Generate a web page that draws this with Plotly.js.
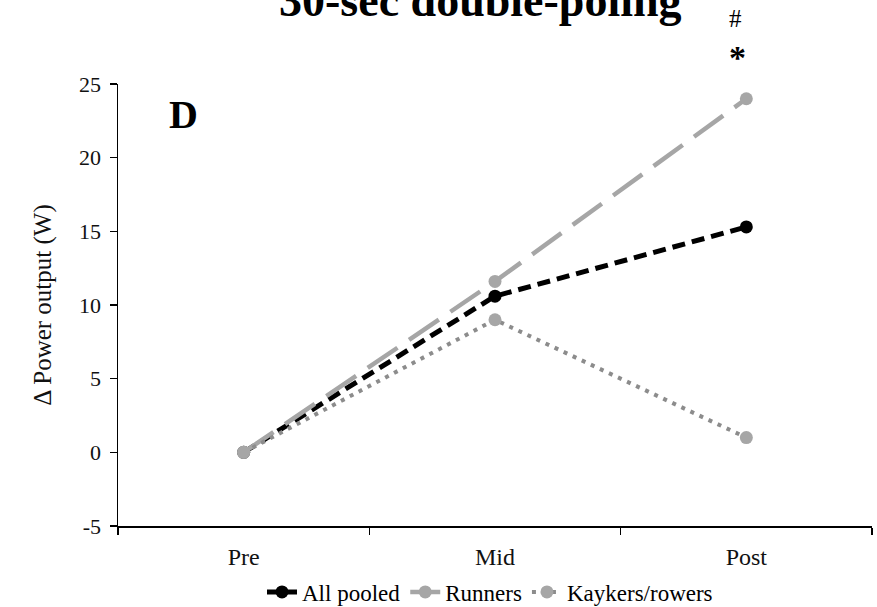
<!DOCTYPE html>
<html><head><meta charset="utf-8">
<script src="https://cdn.plot.ly/plotly-3.0.1.min.js"></script>
<style>html,body{margin:0;padding:0;background:#fff}#c{width:877px;height:607px}</style>
</head><body><div id="c"></div>
<script>
const timepoints = ['Pre', 'Mid', 'Post'];
const allPooled = [0, 10.6, 15.3];
const runners = [0, 11.6, 24.0];
const kayakers = [0, 9.0, 1.0];
const seriesNames = ['All pooled', 'Runners', 'Kaykers/rowers'];
const yTicks = [-5, 0, 5, 10, 15, 20, 25];
const yTickText = ['-5', '0', '5', '10', '15', '20', '25'];

const F = '"Liberation Serif", "Times New Roman", serif';
const traces = [
  {x: timepoints, y: allPooled, name: seriesNames[0], mode: 'lines+markers',
   line: {color: '#000', width: 5, dash: '13px,7px'}, marker: {color: '#000', size: 13}},
  {x: timepoints, y: runners, name: seriesNames[1], mode: 'lines+markers',
   line: {color: '#A6A6A6', width: 4.5, dash: '36px,14px'}, marker: {color: '#A6A6A6', size: 13}},
  {x: timepoints, y: kayakers, name: seriesNames[2], mode: 'lines+markers',
   line: {color: '#8C8C8C', width: 4, dash: '4px,6px'}, marker: {color: '#A6A6A6', size: 13}},
];
const layout = {
  width: 877, height: 607,
  margin: {l: 118, r: 5, t: 84, b: 81},
  paper_bgcolor: '#fff', plot_bgcolor: '#fff',
  font: {family: F, color: '#000'},
  showlegend: true,
  legend: {orientation: 'h', xref: 'container', yref: 'container', x: 490 / 877, xanchor: 'center',
           y: (607 - 592) / 607, yanchor: 'middle',
           font: {family: F, size: 23, color: '#000'}, itemwidth: 30, tracegroupgap: 0},
  xaxis: {type: 'category', categoryarray: timepoints, range: [-0.5, 2.5], tickson: 'boundaries',
          ticks: 'outside', ticklen: 7, tickwidth: 1.3, tickcolor: '#000', ticklabelstandoff: 9,
          showline: true, linecolor: '#000', linewidth: 1.5, showgrid: false, zeroline: false,
          tickfont: {family: F, size: 24, color: '#111'}, fixedrange: true},
  xaxis2: {overlaying: 'x', type: 'linear', range: [-0.5, 2.5], tickvals: [-0.5, 0.5, 1.5, 2.5],
           ticks: 'inside', ticklen: 7, tickwidth: 1.3, tickcolor: '#000', showticklabels: false,
           showline: false, showgrid: false, zeroline: false, side: 'bottom'},
  yaxis: {range: [-5, 25], tickvals: yTicks, ticktext: yTickText, ticks: 'outside', ticklen: 7, tickwidth: 1.3,
          tickcolor: '#000', ticklabelstandoff: 4, showline: true, linecolor: '#000', linewidth: 1.5,
          showgrid: false, zeroline: false, tickfont: {family: F, size: 22, color: '#111'},
          title: {text: 'Δ Power output (W)', font: {family: F, size: 25, color: '#111'}, standoff: 20}},
  yaxis2: {overlaying: 'y', range: [-5, 25], tickvals: yTicks, ticks: 'inside', ticklen: 6,
           tickwidth: 1.3, tickcolor: '#000', showticklabels: false, showline: false,
           showgrid: false, zeroline: false, side: 'left'},
  annotations: [
    {text: '<b>30-sec double-poling</b>', xref: 'paper', yref: 'paper', x: (480 - 118) / 754, y: 1,
     xanchor: 'center', yanchor: 'bottom', showarrow: false, font: {family: F, size: 46, color: '#000'},
     yshift: 56},
    {text: '<b>D</b>', xref: 'paper', yref: 'paper', x: (183 - 118) / 754, y: (526 - 115) / 442,
     xanchor: 'center', yanchor: 'middle', showarrow: false, font: {family: F, size: 40, color: '#000'}},
    {text: '#', xref: 'paper', yref: 'paper', x: (735 - 118) / 754, y: (526 - 18) / 442,
     xanchor: 'center', yanchor: 'middle', showarrow: false, font: {family: F, size: 25, color: '#000'}},
    {text: '<b>*</b>', xref: 'paper', yref: 'paper', x: (737 - 118) / 754, y: (526 - 57) / 442,
     xanchor: 'center', yanchor: 'middle', showarrow: false, font: {family: F, size: 34, color: '#000'}},
  ]
};
Plotly.newPlot('c', traces, layout, {displayModeBar: false, staticPlot: true});
</script></body></html>
